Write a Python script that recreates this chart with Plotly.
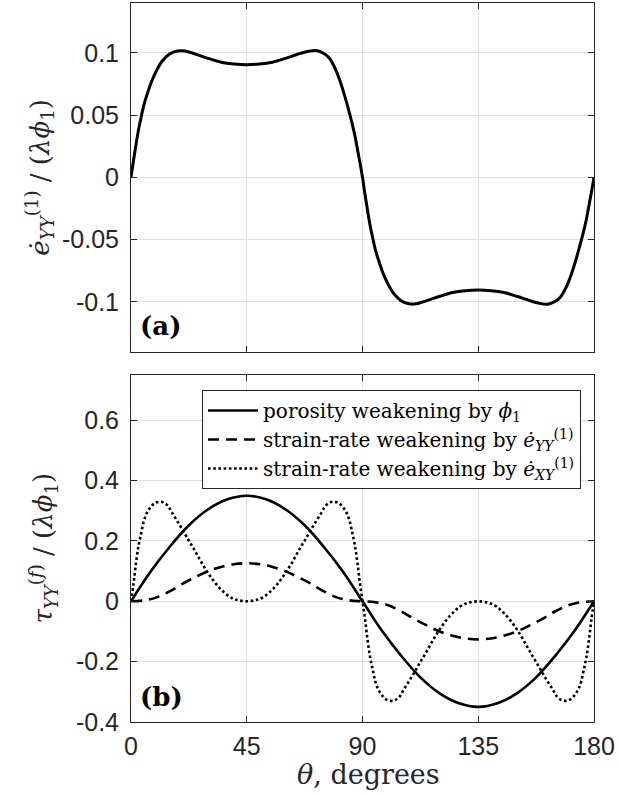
import plotly.graph_objects as go

# ---- data ----
theta_a = [0, 1, 2, 3, 4, 5, 6, 8, 10, 12, 15, 18, 21, 25, 30, 35, 40, 45, 50, 55, 60, 65, 69, 72, 75, 77, 79, 81, 83, 85, 86, 87, 88, 89,
           90, 91, 92, 93, 94, 95, 96, 98, 100, 102, 105, 108, 111, 115, 120, 125, 130, 135, 140, 145, 150, 155, 159, 162, 165, 167, 169, 171, 173, 175, 176, 177, 178, 179, 180]
e_yy = [0, 0.014, 0.027, 0.039, 0.049, 0.058, 0.065, 0.077, 0.086, 0.093, 0.099, 0.1015, 0.1015, 0.099, 0.0955, 0.0925, 0.091, 0.0905, 0.091, 0.0925, 0.0955, 0.099, 0.1012, 0.1018, 0.0995, 0.096, 0.089, 0.079, 0.066, 0.051, 0.043, 0.034, 0.023, 0.012,
        0, -0.014, -0.027, -0.039, -0.049, -0.058, -0.065, -0.077, -0.086, -0.093, -0.099, -0.1015, -0.1015, -0.099, -0.0955, -0.0925, -0.091, -0.0905, -0.091, -0.0925, -0.0955, -0.099, -0.1012, -0.1018, -0.0995, -0.096, -0.089, -0.079, -0.066, -0.051, -0.043, -0.034, -0.023, -0.012, 0]

theta_por = [0, 7.5, 15, 22.5, 30, 37.5, 45, 52.5, 60, 67.5, 75, 82.5, 90, 97.5, 105, 112.5, 120, 127.5, 135, 142.5, 150, 157.5, 165, 172.5, 180]
porosity = [0, 0.097, 0.180, 0.252, 0.305, 0.338, 0.35, 0.338, 0.305, 0.252, 0.180, 0.097, 0,
            -0.097, -0.180, -0.252, -0.305, -0.338, -0.35, -0.338, -0.305, -0.252, -0.180, -0.097, 0]

theta_dash = [0, 5, 10, 15, 20, 25, 30, 35, 40, 45, 50, 55, 60, 65, 70, 75, 80, 85, 90,
              95, 100, 105, 110, 115, 120, 125, 130, 135, 140, 145, 150, 155, 160, 165, 170, 175, 180]
strain_yy = [0, 0.003, 0.013, 0.033, 0.058, 0.08, 0.1, 0.114, 0.123, 0.126, 0.123, 0.114, 0.1, 0.08, 0.058, 0.033, 0.013, 0.003, 0,
             -0.003, -0.013, -0.033, -0.058, -0.08, -0.1, -0.114, -0.123, -0.126, -0.123, -0.114, -0.1, -0.08, -0.058, -0.033, -0.013, -0.003, 0]

theta_dot = [0, 1, 2, 3, 4, 5, 6, 7, 8, 9, 10, 11.5, 13, 14.5, 16, 18, 20, 22, 24, 26, 28, 30, 32, 34, 36, 38, 40, 42, 45,
             48, 50, 52, 54, 56, 58, 60, 62, 64, 66, 68, 70, 72, 74, 75.5, 77, 78.5, 80, 81, 82, 83, 84, 85, 86, 87, 88, 89, 90,
             91, 92, 93, 94, 95, 96, 97, 98, 99, 100, 101.5, 103, 104.5, 106, 108, 110, 112, 114, 116, 118, 120, 122, 124, 126, 128, 130, 132, 135,
             138, 140, 142, 144, 146, 148, 150, 152, 154, 156, 158, 160, 162, 164, 165.5, 167, 168.5, 170, 171, 172, 173, 174, 175, 176, 177, 178, 179, 180]
strain_xy = [0, 0.06, 0.13, 0.187, 0.228, 0.266, 0.29, 0.305, 0.316, 0.324, 0.328, 0.33, 0.326, 0.315, 0.293, 0.266, 0.238, 0.208, 0.18, 0.15, 0.12, 0.093, 0.069, 0.048, 0.031, 0.017, 0.008, 0.003, 0,
             0.003, 0.008, 0.017, 0.031, 0.048, 0.069, 0.093, 0.12, 0.15, 0.18, 0.208, 0.238, 0.266, 0.293, 0.315, 0.326, 0.33, 0.328, 0.324, 0.316, 0.305, 0.29, 0.266, 0.228, 0.187, 0.13, 0.06, 0,
             -0.06, -0.13, -0.187, -0.228, -0.266, -0.29, -0.305, -0.316, -0.324, -0.328, -0.33, -0.326, -0.315, -0.293, -0.266, -0.238, -0.208, -0.18, -0.15, -0.12, -0.093, -0.069, -0.048, -0.031, -0.017, -0.008, -0.003, 0,
             -0.003, -0.008, -0.017, -0.031, -0.048, -0.069, -0.093, -0.12, -0.15, -0.18, -0.208, -0.238, -0.266, -0.293, -0.315, -0.326, -0.33, -0.328, -0.324, -0.316, -0.305, -0.29, -0.266, -0.228, -0.187, -0.13, -0.06, 0]

x_ticks = [0, 45, 90, 135, 180]
x_ticklabels = ["0", "45", "90", "135", "180"]
ya_ticks = [-0.1, -0.05, 0, 0.05, 0.1]
ya_ticklabels = ["-0.1", "-0.05", "0", "0.05", "0.1"]
yb_ticks = [-0.4, -0.2, 0, 0.2, 0.4, 0.6]
yb_ticklabels = ["-0.4", "-0.2", "0", "0.2", "0.4", "0.6"]

names = ["porosity weakening by <i>ϕ</i><sub>1</sub>",
         "strain-rate weakening by <i>ė</i><sub><i>YY</i></sub><sup>(1)</sup>",
         "strain-rate weakening by <i>ė</i><sub><i>XY</i></sub><sup>(1)</sup>"]

SERIF = "DejaVu Serif"
SANS = "Liberation Sans, Arial"
AX = "#262626"
GRID = "#e0e0e0"

fig = go.Figure()
fig.add_trace(go.Scatter(x=theta_a, y=e_yy, mode="lines", line=dict(color="black", width=3, shape="spline"),
                         showlegend=False, xaxis="x", yaxis="y"))
fig.add_trace(go.Scatter(x=theta_por, y=porosity, mode="lines", name=names[0],
                         line=dict(color="black", width=2.6, shape="spline"), xaxis="x2", yaxis="y2"))
fig.add_trace(go.Scatter(x=theta_dash, y=strain_yy, mode="lines", name=names[1],
                         line=dict(color="black", width=2.6, dash="11px,7px", shape="spline"), xaxis="x2", yaxis="y2"))
fig.add_trace(go.Scatter(x=theta_dot, y=strain_xy, mode="lines", name=names[2],
                         line=dict(color="black", width=2.6, dash="2.6px,2.6px", shape="spline"), xaxis="x2", yaxis="y2"))

common_x = dict(range=[0, 180], tickvals=x_ticks, ticktext=x_ticklabels, showgrid=True, gridcolor=GRID, gridwidth=1,
                showline=True, linecolor=AX, linewidth=1, mirror="allticks", ticks="inside", ticklen=6,
                tickcolor=AX, zeroline=False, tickfont=dict(family=SANS, size=25, color=AX))
common_y = dict(showgrid=True, gridcolor=GRID, gridwidth=1, showline=True, linecolor=AX, linewidth=1,
                mirror="allticks", ticks="inside", ticklen=6, tickcolor=AX, zeroline=False,
                tickfont=dict(family=SANS, size=25, color=AX), ticklabelstandoff=6)

fig.update_layout(
    width=619, height=795,
    margin=dict(l=131, r=25, t=3, b=73),
    paper_bgcolor="white", plot_bgcolor="white",
    xaxis=dict(domain=[0, 1], anchor="y", showticklabels=False, **common_x),
    yaxis=dict(domain=[0.515, 1.0], anchor="x", range=[-0.14, 0.14], tickvals=ya_ticks, ticktext=ya_ticklabels, **common_y),
    xaxis2=dict(domain=[0, 1], anchor="y2", showticklabels=True, ticklabelstandoff=2, **common_x),
    yaxis2=dict(domain=[0, 0.4826], anchor="x2", range=[-0.4, 0.75], tickvals=yb_ticks, ticktext=yb_ticklabels, **common_y),
    legend=dict(x=0.972, y=0.4618, xanchor="right", yanchor="top", bgcolor="white", bordercolor=AX, borderwidth=1,
                font=dict(family=SERIF, size=20, color="black"), itemwidth=50, tracegroupgap=0),
    showlegend=True,
    annotations=[
        dict(text="<i>ė</i><sub><i>YY</i></sub><sup>(1)</sup> / (<i>λϕ</i><sub>1</sub>)", xref="paper", yref="paper",
             x=-0.198, y=0.7575, xanchor="center", yanchor="middle", textangle=-90, showarrow=False,
             font=dict(family=SERIF, size=26, color=AX)),
        dict(text="<i>τ</i><sub><i>YY</i></sub><sup>(<i>f</i>)</sup> / (<i>λϕ</i><sub>1</sub>)", xref="paper", yref="paper",
             x=-0.19, y=0.2413, xanchor="center", yanchor="middle", textangle=-90, showarrow=False,
             font=dict(family=SERIF, size=26, color=AX)),
        dict(text="<i>θ</i>, degrees", xref="paper", yref="paper", x=0.512, y=-0.0737,
             xanchor="center", yanchor="middle", showarrow=False, font=dict(family=SERIF, size=27, color=AX)),
        dict(text="<b>(a)</b>", xref="paper", yref="paper", x=0.016, y=0.5507, xanchor="left", yanchor="middle",
             showarrow=False, font=dict(family=SERIF, size=26, color="black")),
        dict(text="<b>(b)</b>", xref="paper", yref="paper", x=0.016, y=0.0348, xanchor="left", yanchor="middle",
             showarrow=False, font=dict(family=SERIF, size=26, color="black")),
    ],
)

fig.write_html("out.html", config={"displayModeBar": False},
               post_script="document.body.style.margin='0';document.body.style.padding='0';")
